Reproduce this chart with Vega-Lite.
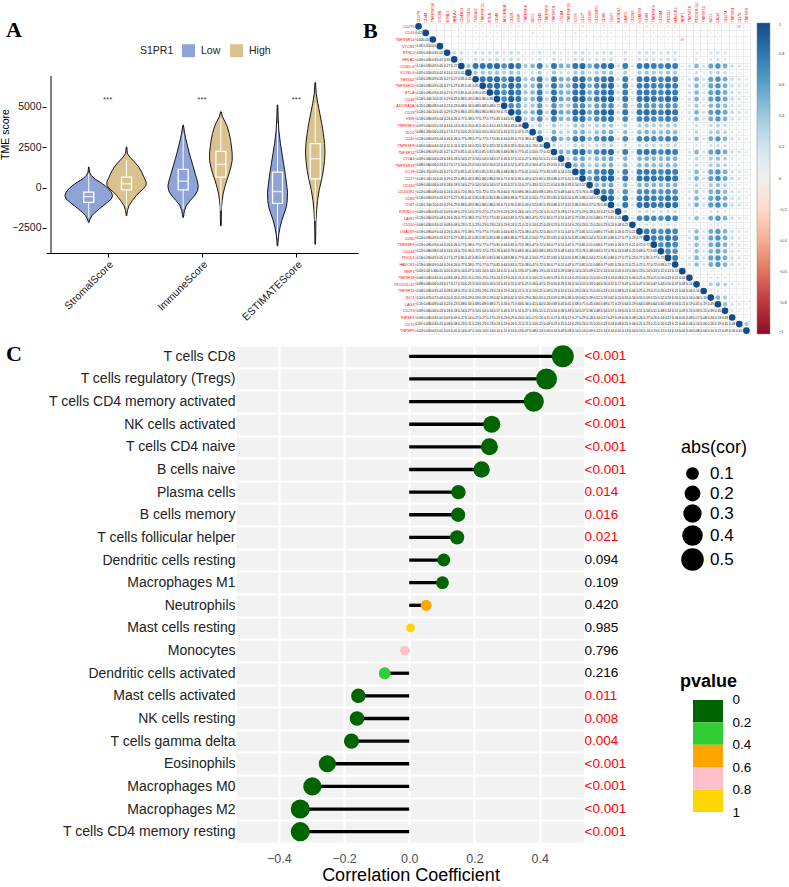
{
"$schema": "https://vega.github.io/schema/vega-lite/v6.json",
"padding": {"left": 0, "top": 1, "right": 0, "bottom": 0},
"autosize": {"type": "pad"},
"config": {"view": {"stroke": null}, "font": "Liberation Sans"},
"datasets": {
"violin": [
{"s":"Stromal","g":"Low","y":1266,"lo":0.797,"hi":0.803},{"s":"Stromal","g":"Low","y":955,"lo":0.793,"hi":0.807},{"s":"Stromal","g":"Low","y":747,"lo":0.773,"hi":0.827},{"s":"Stromal","g":"Low","y":540,"lo":0.738,"hi":0.862},{"s":"Stromal","g":"Low","y":332,"lo":0.68,"hi":0.92},{"s":"Stromal","g":"Low","y":125,"lo":0.629,"hi":0.971},{"s":"Stromal","g":"Low","y":-83,"lo":0.588,"hi":1.012},{"s":"Stromal","g":"Low","y":-291,"lo":0.56,"hi":1.04},{"s":"Stromal","g":"Low","y":-498,"lo":0.547,"hi":1.053},{"s":"Stromal","g":"Low","y":-706,"lo":0.56,"hi":1.04},{"s":"Stromal","g":"Low","y":-913,"lo":0.601,"hi":0.999},{"s":"Stromal","g":"Low","y":-1121,"lo":0.646,"hi":0.954},{"s":"Stromal","g":"Low","y":-1328,"lo":0.69,"hi":0.91},{"s":"Stromal","g":"Low","y":-1536,"lo":0.732,"hi":0.868},{"s":"Stromal","g":"Low","y":-1743,"lo":0.766,"hi":0.834},{"s":"Stromal","g":"Low","y":-1951,"lo":0.786,"hi":0.814},{"s":"Stromal","g":"Low","y":-2158,"lo":0.797,"hi":0.803},
{"s":"Stromal","g":"High","y":2511,"lo":1.197,"hi":1.203},{"s":"Stromal","g":"High","y":2096,"lo":1.19,"hi":1.21},{"s":"Stromal","g":"High","y":1847,"lo":1.159,"hi":1.241},{"s":"Stromal","g":"High","y":1577,"lo":1.114,"hi":1.286},{"s":"Stromal","g":"High","y":1266,"lo":1.07,"hi":1.33},{"s":"Stromal","g":"High","y":955,"lo":1.039,"hi":1.361},{"s":"Stromal","g":"High","y":643,"lo":1.015,"hi":1.385},{"s":"Stromal","g":"High","y":332,"lo":0.991,"hi":1.409},{"s":"Stromal","g":"High","y":125,"lo":0.994,"hi":1.406},{"s":"Stromal","g":"High","y":-83,"lo":1.022,"hi":1.378},{"s":"Stromal","g":"High","y":-291,"lo":1.063,"hi":1.337},{"s":"Stromal","g":"High","y":-498,"lo":1.097,"hi":1.303},{"s":"Stromal","g":"High","y":-809,"lo":1.138,"hi":1.262},{"s":"Stromal","g":"High","y":-1121,"lo":1.173,"hi":1.227},{"s":"Stromal","g":"High","y":-1432,"lo":1.19,"hi":1.21},{"s":"Stromal","g":"High","y":-1743,"lo":1.197,"hi":1.203},
{"s":"Immune","g":"Low","y":3860,"lo":1.797,"hi":1.803},{"s":"Immune","g":"Low","y":3445,"lo":1.786,"hi":1.814},{"s":"Immune","g":"Low","y":3030,"lo":1.773,"hi":1.827},{"s":"Immune","g":"Low","y":2615,"lo":1.755,"hi":1.845},{"s":"Immune","g":"Low","y":2200,"lo":1.738,"hi":1.862},{"s":"Immune","g":"Low","y":1785,"lo":1.718,"hi":1.882},{"s":"Immune","g":"Low","y":1370,"lo":1.697,"hi":1.903},{"s":"Immune","g":"Low","y":955,"lo":1.677,"hi":1.923},{"s":"Immune","g":"Low","y":540,"lo":1.656,"hi":1.944},{"s":"Immune","g":"Low","y":125,"lo":1.639,"hi":1.961},{"s":"Immune","g":"Low","y":-187,"lo":1.646,"hi":1.954},{"s":"Immune","g":"Low","y":-498,"lo":1.677,"hi":1.923},{"s":"Immune","g":"Low","y":-809,"lo":1.725,"hi":1.875},{"s":"Immune","g":"Low","y":-1121,"lo":1.766,"hi":1.834},{"s":"Immune","g":"Low","y":-1432,"lo":1.786,"hi":1.814},{"s":"Immune","g":"Low","y":-1847,"lo":1.797,"hi":1.803},
{"s":"Immune","g":"High","y":4690,"lo":2.197,"hi":2.203},{"s":"Immune","g":"High","y":4378,"lo":2.183,"hi":2.217},{"s":"Immune","g":"High","y":4067,"lo":2.155,"hi":2.245},{"s":"Immune","g":"High","y":3756,"lo":2.132,"hi":2.268},{"s":"Immune","g":"High","y":3341,"lo":2.111,"hi":2.289},{"s":"Immune","g":"High","y":2926,"lo":2.097,"hi":2.303},{"s":"Immune","g":"High","y":2511,"lo":2.087,"hi":2.313},{"s":"Immune","g":"High","y":2096,"lo":2.08,"hi":2.32},{"s":"Immune","g":"High","y":1681,"lo":2.08,"hi":2.32},{"s":"Immune","g":"High","y":1266,"lo":2.094,"hi":2.306},{"s":"Immune","g":"High","y":851,"lo":2.114,"hi":2.286},{"s":"Immune","g":"High","y":436,"lo":2.138,"hi":2.262},{"s":"Immune","g":"High","y":21,"lo":2.159,"hi":2.241},{"s":"Immune","g":"High","y":-394,"lo":2.176,"hi":2.224},{"s":"Immune","g":"High","y":-809,"lo":2.186,"hi":2.214},{"s":"Immune","g":"High","y":-1224,"lo":2.193,"hi":2.207},{"s":"Immune","g":"High","y":-1847,"lo":2.195,"hi":2.205},{"s":"Immune","g":"High","y":-2366,"lo":2.197,"hi":2.203},
{"s":"ESTIMATE","g":"Low","y":5105,"lo":2.797,"hi":2.803},{"s":"ESTIMATE","g":"Low","y":4378,"lo":2.793,"hi":2.807},{"s":"ESTIMATE","g":"Low","y":3548,"lo":2.786,"hi":2.814},{"s":"ESTIMATE","g":"Low","y":2718,"lo":2.769,"hi":2.831},{"s":"ESTIMATE","g":"Low","y":2096,"lo":2.752,"hi":2.848},{"s":"ESTIMATE","g":"Low","y":1473,"lo":2.735,"hi":2.865},{"s":"ESTIMATE","g":"Low","y":851,"lo":2.718,"hi":2.882},{"s":"ESTIMATE","g":"Low","y":228,"lo":2.704,"hi":2.896},{"s":"ESTIMATE","g":"Low","y":-291,"lo":2.694,"hi":2.906},{"s":"ESTIMATE","g":"Low","y":-809,"lo":2.697,"hi":2.903},{"s":"ESTIMATE","g":"Low","y":-1224,"lo":2.707,"hi":2.893},{"s":"ESTIMATE","g":"Low","y":-1639,"lo":2.731,"hi":2.869},{"s":"ESTIMATE","g":"Low","y":-2054,"lo":2.755,"hi":2.845},{"s":"ESTIMATE","g":"Low","y":-2469,"lo":2.773,"hi":2.827},{"s":"ESTIMATE","g":"Low","y":-2884,"lo":2.786,"hi":2.814},{"s":"ESTIMATE","g":"Low","y":-3299,"lo":2.793,"hi":2.807},{"s":"ESTIMATE","g":"Low","y":-3611,"lo":2.797,"hi":2.803},
{"s":"ESTIMATE","g":"High","y":6495,"lo":3.197,"hi":3.203},{"s":"ESTIMATE","g":"High","y":5831,"lo":3.19,"hi":3.21},{"s":"ESTIMATE","g":"High","y":5208,"lo":3.173,"hi":3.227},{"s":"ESTIMATE","g":"High","y":4586,"lo":3.152,"hi":3.248},{"s":"ESTIMATE","g":"High","y":3963,"lo":3.131,"hi":3.269},{"s":"ESTIMATE","g":"High","y":3341,"lo":3.114,"hi":3.286},{"s":"ESTIMATE","g":"High","y":2718,"lo":3.101,"hi":3.299},{"s":"ESTIMATE","g":"High","y":2200,"lo":3.097,"hi":3.303},{"s":"ESTIMATE","g":"High","y":1681,"lo":3.101,"hi":3.299},{"s":"ESTIMATE","g":"High","y":1058,"lo":3.114,"hi":3.286},{"s":"ESTIMATE","g":"High","y":436,"lo":3.135,"hi":3.265},{"s":"ESTIMATE","g":"High","y":-187,"lo":3.159,"hi":3.241},{"s":"ESTIMATE","g":"High","y":-809,"lo":3.176,"hi":3.224},{"s":"ESTIMATE","g":"High","y":-1432,"lo":3.186,"hi":3.214},{"s":"ESTIMATE","g":"High","y":-2054,"lo":3.193,"hi":3.207},{"s":"ESTIMATE","g":"High","y":-2677,"lo":3.195,"hi":3.205},{"s":"ESTIMATE","g":"High","y":-3507,"lo":3.197,"hi":3.203}
],
"box": [
{"s":"Stromal","g":"Low","pos":0.8,"lower":-1850,"q1":-913,"med":-560,"q3":-290,"upper":850},
{"s":"Stromal","g":"High","pos":1.2,"lower":-1224,"q1":-145,"med":228,"q3":643,"upper":1680},
{"s":"Immune","g":"Low","pos":1.8,"lower":-1328,"q1":-145,"med":394,"q3":1120,"upper":3340},
{"s":"Immune","g":"High","pos":2.2,"lower":-1432,"q1":643,"med":1432,"q3":2241,"upper":4275},
{"s":"ESTIMATE","g":"Low","pos":2.8,"lower":-3092,"q1":-975,"med":-249,"q3":955,"upper":3963},
{"s":"ESTIMATE","g":"High","pos":3.2,"lower":-2054,"q1":540,"med":1785,"q3":2718,"upper":5200}
],
"stars": [{"pos":1,"y":5420,"lab":"***"},{"pos":2,"y":5420,"lab":"***"},{"pos":3,"y":5420,"lab":"***"}],
"pbins": [{"bin":"0-0.2","lo":0,"hi":0.2},{"bin":"0.2-0.4","lo":0.2,"hi":0.4},{"bin":"0.4-0.6","lo":0.4,"hi":0.6},{"bin":"0.6-0.8","lo":0.6,"hi":0.8},{"bin":"0.8-1","lo":0.8,"hi":1}],
"cols": [
{"k":1,"c":"TNFSF9"},{"k":2,"c":"CD70"},{"k":3,"c":"TNFSF4"},{"k":4,"c":"CD274"},{"k":5,"c":"LAG3"},{"k":6,"c":"IDO1"},{"k":7,"c":"TNFSF15"},{"k":8,"c":"PDCD1LG2"},{"k":9,"c":"TNFSF18"},{"k":10,"c":"NRP1"},{"k":11,"c":"HAVCR2"},{"k":12,"c":"PDCD1"},{"k":13,"c":"CD244"},{"k":14,"c":"TNFRSF9"},{"k":15,"c":"CD80"},{"k":16,"c":"LGALS9"},{"k":17,"c":"CD200"},{"k":18,"c":"LAIR1"},{"k":19,"c":"KIR3DL1"},{"k":20,"c":"TIGIT"},{"k":21,"c":"CD86"},{"k":22,"c":"CD200R1"},{"k":23,"c":"CD160"},{"k":24,"c":"CD27"},{"k":25,"c":"ICOS"},{"k":26,"c":"TNFRSF18"},{"k":27,"c":"CTLA4"},{"k":28,"c":"TNFSF14"},{"k":29,"c":"TNFRSF8"},{"k":30,"c":"CD40"},{"k":31,"c":"IDO2"},{"k":32,"c":"TNFRSF4"},{"k":33,"c":"VSIR"},{"k":34,"c":"CD28"},{"k":35,"c":"ADORA2A"},{"k":36,"c":"CD48"},{"k":37,"c":"BTLA"},{"k":38,"c":"TNFRSF25"},{"k":39,"c":"TMIGD2"},{"k":40,"c":"ICOSLG"},{"k":41,"c":"CD40LG"},{"k":42,"c":"HHLA2"},{"k":43,"c":"BTNL2"},{"k":44,"c":"VTCN1"},{"k":45,"c":"TNFRSF14"},{"k":46,"c":"CD44"},{"k":47,"c":"CD276"}
],
"corr": [
{"g":"CD276","v":[-0.02,0.3,-0.05,-0.09,-0.11,-0.1,-0.04,-0.08,-0.04,-0.02,-0.13,-0.14,-0.12,-0.13,-0.14,-0.13,-0.04,-0.13,-0.05,-0.14,-0.14,-0.12,-0.09,-0.14,-0.14,-0.08,-0.09,-0.14,-0.05,-0.13,-0.08,-0.07,-0.13,-0.14,-0.11,-0.14,-0.14,-0.14,-0.14,-0.07,-0.14,-0.05,-0.05,-0.01,-0.02,0.02,1]},
{"g":"CD44","v":[-0.02,-0.03,-0.03,-0.06,-0.08,-0.07,-0.03,-0.06,-0.03,-0.02,-0.09,-0.09,-0.08,-0.09,-0.09,-0.09,-0.03,-0.09,-0.03,-0.1,-0.09,-0.08,-0.06,-0.1,-0.15,-0.06,-0.06,-0.09,-0.04,-0.09,-0.2,-0.05,-0.09,-0.1,-0.08,-0.1,-0.09,-0.09,-0.09,-0.05,-0.09,-0.03,-0.03,-0.01,0.05,1]},
{"g":"TNFRSF14","v":[0.02,0.03,0.03,0.06,0.08,0.07,0.03,0.06,0.03,-0.3,0.09,0.09,0.08,0.09,0.09,0.09,0.03,0.09,0.03,0.1,0.09,0.08,0.06,0.1,0.09,0.06,0.06,0.09,0.04,0.09,0.06,0.05,0.09,0.1,0.08,0.1,0.09,0.09,0.09,0.05,0.09,0.03,0.03,0.01,1]},
{"g":"VTCN1","v":[0.01,0.01,0.02,0.03,0.04,0.03,0.01,0.03,0.01,0.01,0.04,0.05,0.04,0.04,0.05,0.04,0.01,0.04,0.02,0.05,0.05,0.04,0.03,0.05,0.05,0.03,0.03,0.05,0.02,0.04,0.03,0.02,0.04,0.05,0.04,0.05,0.05,0.05,0.05,0.02,0.05,0.02,0.02,1]},
{"g":"BTNL2","v":[0.05,0.08,0.09,0.18,0.23,0.2,0.08,0.17,0.08,0.05,0.26,0.27,0.24,0.26,0.27,0.26,0.08,0.26,0.09,0.29,0.27,0.24,0.18,0.29,0.27,0.17,0.18,0.27,0.11,0.26,0.17,0.14,0.26,0.29,0.23,0.29,0.27,0.27,0.27,0.14,0.27,0.3,1]},
{"g":"HHLA2","v":[0.05,0.08,0.09,0.18,0.23,0.2,0.08,0.17,0.08,0.05,0.26,0.27,0.24,0.26,0.27,0.26,0.08,0.26,0.09,0.29,0.27,0.24,0.18,0.29,0.27,0.17,0.18,0.27,0.11,0.26,0.17,0.14,0.26,0.29,0.23,0.29,0.27,0.27,0.27,0.14,0.27,1]},
{"g":"CD40LG","v":[0.14,0.23,0.27,0.54,0.68,0.59,0.23,0.5,0.23,0.14,0.77,0.81,0.72,0.77,0.81,0.77,0.23,0.77,0.27,0.86,0.81,0.72,0.54,0.86,0.81,0.5,0.54,0.81,0.32,0.77,0.5,0.41,0.77,0.86,0.68,0.86,0.81,0.81,0.81,0.41,1]},
{"g":"ICOSLG","v":[0.07,0.11,0.14,0.27,0.34,0.29,0.11,0.25,0.11,0.07,0.38,0.41,0.36,0.38,0.41,0.38,0.11,0.38,0.14,0.43,0.41,0.36,0.27,0.43,0.41,0.25,0.27,0.41,0.16,0.38,0.25,0.2,0.38,0.43,0.34,0.43,0.41,0.41,0.41,1]},
{"g":"TMIGD2","v":[0.14,0.23,0.27,0.54,0.68,0.59,0.23,0.5,0.23,0.14,0.77,0.81,0.72,0.77,0.81,0.77,0.23,0.77,0.27,0.86,0.81,0.72,0.54,0.86,0.81,0.5,0.54,0.81,0.32,0.77,0.5,0.41,0.77,0.86,0.68,0.86,0.81,0.81,1]},
{"g":"TNFRSF25","v":[0.14,0.23,0.27,0.54,0.68,0.59,0.23,0.5,0.23,0.14,0.77,0.81,0.72,0.77,0.81,0.77,0.23,0.77,0.27,0.86,0.81,0.72,0.54,0.86,0.81,0.5,0.54,0.81,0.32,0.77,0.5,0.41,0.77,0.86,0.68,0.86,0.81,1]},
{"g":"BTLA","v":[0.14,0.23,0.27,0.54,0.68,0.59,0.23,0.5,0.23,0.14,0.77,0.81,0.72,0.77,0.81,0.77,0.23,0.77,0.27,0.86,0.81,0.72,0.54,0.86,0.81,0.5,0.54,0.81,0.32,0.77,0.5,0.41,0.77,0.86,0.68,0.86,1]},
{"g":"CD48","v":[0.14,0.24,0.29,0.57,0.71,0.62,0.24,0.52,0.24,0.14,0.81,0.86,0.76,0.81,0.86,0.81,0.24,0.81,0.29,0.9,0.86,0.76,0.57,0.9,0.86,0.52,0.57,0.86,0.33,0.81,0.52,0.43,0.81,0.9,0.71,1]},
{"g":"ADORA2A","v":[0.11,0.19,0.23,0.45,0.56,0.49,0.19,0.41,0.19,0.11,0.64,0.68,0.6,0.64,0.68,0.64,0.19,0.64,0.23,0.71,0.68,0.6,0.45,0.71,0.68,0.41,0.45,0.68,0.26,0.64,0.41,0.34,0.64,0.71,1]},
{"g":"CD28","v":[0.14,0.24,0.29,0.57,0.71,0.62,0.24,0.52,0.24,0.14,0.81,0.86,0.76,0.81,0.86,0.81,0.24,0.81,0.29,0.9,0.86,0.76,0.57,0.9,0.86,0.52,0.57,0.86,0.33,0.81,0.52,0.43,0.81,1]},
{"g":"VSIR","v":[0.13,0.21,0.26,0.51,0.64,0.55,0.21,0.47,0.21,0.13,0.72,0.77,0.68,0.72,0.77,0.72,0.21,0.72,0.26,0.81,0.77,0.68,0.51,0.81,0.77,0.47,0.51,0.77,0.3,0.72,0.47,0.38,1]},
{"g":"TNFRSF4","v":[0.07,0.11,0.14,0.27,0.34,0.29,0.11,0.25,0.11,0.07,0.38,0.41,0.36,0.38,0.41,0.38,0.11,0.38,0.14,0.43,0.41,0.36,0.27,0.43,0.41,0.25,0.27,0.41,0.16,0.38,0.25,1]},
{"g":"IDO2","v":[0.08,0.14,0.17,0.33,0.41,0.36,0.14,0.3,0.14,0.08,0.47,0.5,0.44,0.47,0.5,0.47,0.14,0.47,0.17,0.52,0.5,0.44,0.33,0.52,0.5,0.3,0.33,0.5,0.19,0.47,1]},
{"g":"CD40","v":[0.13,0.21,0.26,0.51,0.64,0.55,0.21,0.47,0.21,0.13,0.72,0.77,0.68,0.72,0.77,0.72,0.21,0.72,0.26,0.81,0.77,0.68,0.51,0.81,0.77,0.47,0.51,0.77,0.3,1]},
{"g":"TNFRSF8","v":[0.05,0.09,0.11,0.21,0.26,0.23,0.09,0.19,0.09,0.05,0.3,0.32,0.28,0.3,0.32,0.3,0.09,0.3,0.11,0.33,0.32,0.28,0.21,0.33,0.32,0.19,0.21,0.32,1]},
{"g":"TNFSF14","v":[0.14,0.23,0.27,0.54,0.68,0.59,0.23,0.5,0.23,0.14,0.77,0.81,0.72,0.77,0.81,0.77,0.23,0.77,0.27,0.86,0.81,0.72,0.54,0.86,0.81,0.5,0.54,1]},
{"g":"CTLA4","v":[0.09,0.15,0.18,0.36,0.45,0.39,0.15,0.33,0.15,0.09,0.51,0.54,0.48,0.51,0.54,0.51,0.15,0.51,0.18,0.57,0.54,0.48,0.36,0.57,0.54,0.33,1]},
{"g":"TNFRSF18","v":[0.08,0.14,0.17,0.33,0.41,0.36,0.14,0.3,0.14,0.08,0.47,0.5,0.44,0.47,0.5,0.47,0.14,0.47,0.17,0.52,0.5,0.44,0.33,0.52,0.5,1]},
{"g":"ICOS","v":[0.14,0.23,0.27,0.54,0.68,0.59,0.23,0.5,0.23,0.14,0.77,0.81,0.72,0.77,0.81,0.77,0.23,0.77,0.27,0.86,0.81,0.72,0.54,0.86,1]},
{"g":"CD27","v":[0.14,0.24,0.29,0.57,0.71,0.62,0.24,0.52,0.24,0.14,0.81,0.86,0.76,0.81,0.86,0.81,0.24,0.81,0.29,0.9,0.86,0.76,0.57,1]},
{"g":"CD160","v":[0.09,0.15,0.18,0.36,0.45,0.39,0.15,0.33,0.15,0.09,0.51,0.54,0.48,0.51,0.54,0.51,0.15,0.51,0.18,0.57,0.54,0.48,1]},
{"g":"CD200R1","v":[0.12,0.2,0.24,0.48,0.6,0.52,0.2,0.44,0.2,0.12,0.68,0.72,0.64,0.68,0.72,0.68,0.2,0.68,0.24,0.76,0.72,1]},
{"g":"CD86","v":[0.14,0.23,0.27,0.54,0.68,0.59,0.23,0.5,0.23,0.14,0.77,0.81,0.72,0.77,0.81,0.77,0.23,0.77,0.27,0.86,1]},
{"g":"TIGIT","v":[0.14,0.24,0.29,0.57,0.71,0.62,0.24,0.52,0.24,0.14,0.81,0.86,0.76,0.81,0.86,0.81,0.24,0.81,0.29,1]},
{"g":"KIR3DL1","v":[0.05,0.08,0.09,0.18,0.23,0.2,0.08,0.17,0.08,0.05,0.26,0.27,0.24,0.26,0.27,0.26,0.08,0.26,1]},
{"g":"LAIR1","v":[0.13,0.21,0.26,0.51,0.64,0.55,0.21,0.47,0.21,0.13,0.72,0.77,0.68,0.72,0.77,0.72,0.21,1]},
{"g":"CD200","v":[0.04,0.06,0.08,0.15,0.19,0.16,0.06,0.14,0.06,0.04,0.21,0.23,0.2,0.21,0.23,0.21,1]},
{"g":"LGALS9","v":[0.13,0.21,0.26,0.51,0.64,0.55,0.21,0.47,0.21,0.13,0.72,0.77,0.68,0.72,0.77,1]},
{"g":"CD80","v":[0.14,0.23,0.27,0.54,0.68,0.59,0.23,0.5,0.23,0.14,0.77,0.81,0.72,0.77,1]},
{"g":"TNFRSF9","v":[0.13,0.21,0.26,0.51,0.64,0.55,0.21,0.47,0.21,0.13,0.72,0.77,0.68,1]},
{"g":"CD244","v":[0.12,0.2,0.24,0.48,0.6,0.52,0.2,0.44,0.2,0.12,0.68,0.72,1]},
{"g":"PDCD1","v":[0.14,0.23,0.27,0.54,0.68,0.59,0.23,0.5,0.23,0.14,0.77,1]},
{"g":"HAVCR2","v":[0.13,0.21,0.26,0.51,0.64,0.55,0.21,0.47,0.21,0.13,1]},
{"g":"NRP1","v":[0.02,0.04,0.05,0.09,0.11,0.1,0.04,0.08,0.04,1]},
{"g":"TNFSF18","v":[0.04,0.06,0.08,0.15,0.19,0.16,0.06,0.14,1]},
{"g":"PDCD1LG2","v":[0.08,0.14,0.17,0.33,0.41,0.36,0.14,1]},
{"g":"TNFSF15","v":[0.04,0.06,0.08,0.15,0.19,0.16,1]},
{"g":"IDO1","v":[0.1,0.16,0.2,0.39,0.49,1]},
{"g":"LAG3","v":[0.11,0.19,0.23,0.45,1]},
{"g":"CD274","v":[0.09,0.15,0.18,1]},
{"g":"TNFSF4","v":[0.05,0.08,1]},
{"g":"CD70","v":[0.4,1]},
{"g":"TNFSF9","v":[1]}
],
"imm": [
{"cell":"T cells CD8","cor":0.471,"abscor":0.471,"pvalue":0.0005,"ptext":"<0.001"},
{"cell":"T cells regulatory (Tregs)","cor":0.421,"abscor":0.421,"pvalue":0.0005,"ptext":"<0.001"},
{"cell":"T cells CD4 memory activated","cor":0.382,"abscor":0.382,"pvalue":0.0005,"ptext":"<0.001"},
{"cell":"NK cells activated","cor":0.253,"abscor":0.253,"pvalue":0.0005,"ptext":"<0.001"},
{"cell":"T cells CD4 naive","cor":0.246,"abscor":0.246,"pvalue":0.0005,"ptext":"<0.001"},
{"cell":"B cells naive","cor":0.222,"abscor":0.222,"pvalue":0.0005,"ptext":"<0.001"},
{"cell":"Plasma cells","cor":0.151,"abscor":0.151,"pvalue":0.014,"ptext":"0.014"},
{"cell":"B cells memory","cor":0.15,"abscor":0.15,"pvalue":0.016,"ptext":"0.016"},
{"cell":"T cells follicular helper","cor":0.147,"abscor":0.147,"pvalue":0.021,"ptext":"0.021"},
{"cell":"Dendritic cells resting","cor":0.106,"abscor":0.106,"pvalue":0.094,"ptext":"0.094"},
{"cell":"Macrophages M1","cor":0.102,"abscor":0.102,"pvalue":0.109,"ptext":"0.109"},
{"cell":"Neutrophils","cor":0.052,"abscor":0.052,"pvalue":0.42,"ptext":"0.420"},
{"cell":"Mast cells resting","cor":0.004,"abscor":0.004,"pvalue":0.985,"ptext":"0.985"},
{"cell":"Monocytes","cor":-0.014,"abscor":0.014,"pvalue":0.796,"ptext":"0.796"},
{"cell":"Dendritic cells activated","cor":-0.075,"abscor":0.075,"pvalue":0.216,"ptext":"0.216"},
{"cell":"Mast cells activated","cor":-0.156,"abscor":0.156,"pvalue":0.011,"ptext":"0.011"},
{"cell":"NK cells resting","cor":-0.16,"abscor":0.16,"pvalue":0.008,"ptext":"0.008"},
{"cell":"T cells gamma delta","cor":-0.177,"abscor":0.177,"pvalue":0.004,"ptext":"0.004"},
{"cell":"Eosinophils","cor":-0.251,"abscor":0.251,"pvalue":0.0005,"ptext":"<0.001"},
{"cell":"Macrophages M0","cor":-0.297,"abscor":0.297,"pvalue":0.0005,"ptext":"<0.001"},
{"cell":"Macrophages M2","cor":-0.334,"abscor":0.334,"pvalue":0.0005,"ptext":"<0.001"},
{"cell":"T cells CD4 memory resting","cor":-0.334,"abscor":0.334,"pvalue":0.0005,"ptext":"<0.001"}
]
},
"concat": [
{
"hconcat": [
{
"width": 312, "height": 230,
"title": {"text": "A", "anchor": "start", "frame": "group", "dx": -40, "dy": 19, "offset": 0, "font": "Liberation Serif", "fontSize": 22, "fontWeight": "bold", "color": "black"},
"layer": [
{"data": {"name": "violin"}, "mark": {"type": "area", "orient": "horizontal", "stroke": "black", "strokeWidth": 0.9},
 "encoding": {
  "y": {"field": "y", "type": "quantitative", "scale": {"domain": [-4050, 10179], "nice": false, "zero": false},
        "axis": {"title": "TME score", "titleFontSize": 10.5, "titleFontWeight": "normal", "titleColor": "black", "titlePadding": 1, "titleY": 111, "values": [-2500, 0, 2500, 5000], "format": "d", "labelFontSize": 10.5, "labelColor": "#222", "tickColor": "black", "tickSize": 4, "labelPadding": 1, "domain": false, "grid": false}},
  "x": {"field": "lo", "type": "quantitative", "scale": {"domain": [0.4, 3.6], "nice": false, "zero": false},
        "axis": {"title": null, "values": [1, 2, 3], "labelExpr": "datum.value == 1 ? 'StromalScore' : datum.value == 2 ? 'ImmuneScore' : 'ESTIMATEScore'", "labelAngle": -45, "labelFontSize": 10.5, "labelColor": "#222", "tickColor": "black", "tickSize": 4, "labelPadding": 2, "domainColor": "black", "domainWidth": 1, "grid": false}},
  "x2": {"field": "hi"},
  "fill": {"field": "g", "type": "nominal", "scale": {"domain": ["Low", "High"], "range": ["#8FA3D7", "#D9C28E"]},
           "legend": {"title": "S1PR1", "orient": "none", "legendX": 94, "legendY": 20, "direction": "horizontal", "titleOrient": "left", "titleFontSize": 10.5, "titleFontWeight": "normal", "titleColor": "#222", "labelFontSize": 10.5, "labelColor": "#222", "symbolType": "square", "symbolSize": 196, "symbolStrokeColor": "#333", "symbolStrokeWidth": 1, "labelOffset": 5, "columnPadding": 6, "titlePadding": 7, "symbolOpacity": 1}},
  "detail": {"field": "s"}
 }},
{"data": {"name": "box"}, "mark": {"type": "rule", "color": "white", "strokeWidth": 1},
 "encoding": {"x": {"field": "pos", "type": "quantitative"}, "y": {"field": "lower", "type": "quantitative"}, "y2": {"field": "upper"}}},
{"data": {"name": "box"}, "mark": {"type": "bar", "width": 10, "stroke": "white", "strokeWidth": 1.3},
 "encoding": {"x": {"field": "pos", "type": "quantitative"}, "y": {"field": "q1", "type": "quantitative"}, "y2": {"field": "q3"}, "fill": {"field": "g", "type": "nominal"}}},
{"data": {"name": "box"}, "mark": {"type": "tick", "orient": "horizontal", "color": "white", "thickness": 1.5, "size": 10},
 "encoding": {"x": {"field": "pos", "type": "quantitative"}, "y": {"field": "med", "type": "quantitative"}}},
{"data": {"name": "stars"}, "mark": {"type": "text", "fontSize": 8, "color": "#444"},
 "encoding": {"x": {"field": "pos", "type": "quantitative"}, "y": {"field": "y", "type": "quantitative"}, "text": {"field": "lab"}}},
{"data": {"values": [{}]}, "mark": {"type": "rule", "color": "black", "strokeWidth": 1},
 "encoding": {"x": {"datum": 0.4, "type": "quantitative"}, "y": {"datum": -4050, "type": "quantitative"}, "y2": {"datum": 6900}}}
]
},
{
"width": 335, "height": 311,
"title": {"text": "B", "anchor": "start", "frame": "group", "dx": -52, "dy": 41, "offset": 0, "font": "Liberation Serif", "fontSize": 22, "fontWeight": "bold", "color": "black"},
"data": {"name": "corr"},
"transform": [
 {"flatten": ["v"]},
 {"window": [{"op": "row_number", "as": "k"}], "groupby": ["g"]},
 {"lookup": "k", "from": {"data": {"name": "cols"}, "key": "k", "fields": ["c"]}}
],
"resolve": {"scale": {"size": "independent"}, "legend": {"size": "independent"}},
"layer": [
{"transform": [{"filter": "datum.v >= 0"}], "mark": {"type": "circle", "opacity": 1},
 "encoding": {
  "x": {"field": "c", "type": "nominal", "scale": {"domain": ["CD276","CD44","TNFRSF14","VTCN1","BTNL2","HHLA2","CD40LG","ICOSLG","TMIGD2","TNFRSF25","BTLA","CD48","ADORA2A","CD28","VSIR","TNFRSF4","IDO2","CD40","TNFRSF8","TNFSF14","CTLA4","TNFRSF18","ICOS","CD27","CD160","CD200R1","CD86","TIGIT","KIR3DL1","LAIR1","CD200","LGALS9","CD80","TNFRSF9","CD244","PDCD1","HAVCR2","NRP1","TNFSF18","PDCD1LG2","TNFSF15","IDO1","LAG3","CD274","TNFSF4","CD70","TNFSF9"], "paddingInner": 0, "paddingOuter": 0},
        "axis": {"orient": "top", "title": null, "labelAngle": -90, "labelAlign": "left", "labelBaseline": "middle", "labelFontSize": 3.8, "labelColor": "#FF0000", "labelPadding": 1, "ticks": false, "domain": false, "labelOverlap": false, "labelBound": false, "grid": true, "gridColor": "#DDDDDD", "gridWidth": 0.5, "tickBand": "extent"}},
  "y": {"field": "g", "type": "nominal", "scale": {"domain": ["CD276","CD44","TNFRSF14","VTCN1","BTNL2","HHLA2","CD40LG","ICOSLG","TMIGD2","TNFRSF25","BTLA","CD48","ADORA2A","CD28","VSIR","TNFRSF4","IDO2","CD40","TNFRSF8","TNFSF14","CTLA4","TNFRSF18","ICOS","CD27","CD160","CD200R1","CD86","TIGIT","KIR3DL1","LAIR1","CD200","LGALS9","CD80","TNFRSF9","CD244","PDCD1","HAVCR2","NRP1","TNFSF18","PDCD1LG2","TNFSF15","IDO1","LAG3","CD274","TNFSF4","CD70","TNFSF9"], "paddingInner": 0, "paddingOuter": 0},
        "axis": {"title": null, "labelFontSize": 3.8, "labelColor": "#FF0000", "labelPadding": 1, "ticks": false, "domain": false, "labelOverlap": false, "labelBound": false, "grid": true, "gridColor": "#DDDDDD", "gridWidth": 0.5, "tickBand": "extent"}},
  "size": {"field": "v", "type": "quantitative", "scale": {"domain": [0, 1], "range": [0, 44]}, "legend": null},
  "color": {"field": "v", "type": "quantitative", "scale": {"domain": [-1, 1], "scheme": "redblue"},
            "legend": {"title": null, "type": "gradient", "orient": "right", "offset": 7, "direction": "vertical", "gradientLength": 311, "gradientThickness": 13, "values": [-1,-0.8,-0.6,-0.4,-0.2,0,0.2,0.4,0.6,0.8,1], "format": "~g", "labelFontSize": 3.8, "labelOffset": 9, "labelColor": "#333", "gradientStrokeColor": "#888", "gradientStrokeWidth": 0.5, "labelOverlap": false}}
 }},
{"transform": [{"filter": "datum.v < 0"}], "mark": {"type": "circle", "opacity": 1},
 "encoding": {
  "x": {"field": "c", "type": "nominal"},
  "y": {"field": "g", "type": "nominal"},
  "size": {"field": "v", "type": "quantitative", "scale": {"domain": [0, -1], "range": [0, 44]}, "legend": null},
  "color": {"field": "v", "type": "quantitative"}
 }},
{"transform": [{"filter": "datum.v < 1"}], "mark": {"type": "text", "fontSize": 3.2, "color": "black"},
 "encoding": {
  "x": {"field": "g", "type": "nominal"},
  "y": {"field": "c", "type": "nominal"},
  "text": {"field": "v", "type": "quantitative", "format": ".2f"}
 }}
]
}
],
"bounds": "flush",
"spacing": 57,
"resolve": {"scale": {"color": "independent", "fill": "independent", "size": "independent"}, "legend": {"color": "independent", "fill": "independent", "size": "independent"}}
},
{
"hconcat": [
{"width": 82, "height": 1, "data": {"values": []}, "mark": "point"},
{
"width": 347, "height": 498,
"view": {"fill": "#F2F2F2", "stroke": null},
"title": {"text": "C", "anchor": "start", "frame": "group", "dx": -231, "dy": 28, "offset": 0, "font": "Liberation Serif", "fontSize": 22, "fontWeight": "bold", "color": "black"},
"data": {"name": "imm"},
"encoding": {
 "y": {"field": "cell", "type": "nominal", "scale": {"domain": ["T cells CD8","T cells regulatory (Tregs)","T cells CD4 memory activated","NK cells activated","T cells CD4 naive","B cells naive","Plasma cells","B cells memory","T cells follicular helper","Dendritic cells resting","Macrophages M1","Neutrophils","Mast cells resting","Monocytes","Dendritic cells activated","Mast cells activated","NK cells resting","T cells gamma delta","Eosinophils","Macrophages M0","Macrophages M2","T cells CD4 memory resting"], "paddingInner": 0, "paddingOuter": 0},
       "axis": {"title": null, "labelFontSize": 14, "labelColor": "#222", "labelLimit": 0, "ticks": false, "domain": false, "labelPadding": 2, "labelOverlap": false, "grid": true, "gridColor": "white", "gridWidth": 2, "tickBand": "extent"}}
},
"layer": [
{"mark": {"type": "rule", "color": "black", "strokeWidth": 3.3},
 "encoding": {
  "x": {"field": "cor", "type": "quantitative", "scale": {"domain": [-0.528, 0.536], "nice": false, "zero": false},
        "axis": {"title": "Correlation Coefficient", "titleFontSize": 18, "titleFontWeight": "normal", "titleColor": "black", "titlePadding": 2, "values": [-0.4, -0.2, 0, 0.2, 0.4], "format": ".1f", "labelFontSize": 12.5, "labelColor": "#4D4D4D", "ticks": false, "domain": false, "labelPadding": 9, "grid": true, "gridColor": "white", "gridWidth": 2}},
  "x2": {"datum": 0}
 }},
{"mark": {"type": "circle", "opacity": 1},
 "encoding": {
  "x": {"field": "cor", "type": "quantitative"},
  "size": {"field": "abscor", "type": "quantitative", "scale": {"domain": [0, 0.5], "range": [75, 510]},
           "legend": {"title": "abs(cor)", "orient": "none", "legendX": 444, "legendY": 94, "values": [0.1, 0.2, 0.3, 0.4, 0.5], "symbolType": "circle", "symbolFillColor": "black", "symbolStrokeColor": "black", "symbolStrokeWidth": 0, "symbolOpacity": 1, "titleFontSize": 18, "titleFontWeight": "normal", "titleColor": "black", "labelFontSize": 17, "labelColor": "black", "rowPadding": 2, "labelOffset": 6, "titlePadding": 8}},
  "color": {"field": "pvalue", "type": "quantitative", "bin": {"extent": [0, 1], "step": 0.2}, "scale": {"range": ["#006400", "#32CD32", "#FFA500", "#FFC0CB", "#FFD700"]}, "legend": null}
 }},
{"mark": {"type": "text", "align": "left", "baseline": "middle", "dx": 0.5, "fontSize": 13.5},
 "encoding": {
  "x": {"datum": 0.536, "type": "quantitative"},
  "text": {"field": "ptext"},
  "color": {"condition": {"test": "datum.pvalue < 0.05", "value": "#FF0000"}, "value": "#000000"}
 }}
]
},
{
"width": 30, "height": 467,
"title": {"text": "pvalue", "anchor": "start", "frame": "group", "dx": -13, "dy": 346, "offset": 0, "fontSize": 18, "fontWeight": "bold", "color": "black", "font": "Liberation Sans"},
"data": {"name": "pbins"},
"mark": {"type": "rect"},
"encoding": {
 "y": {"field": "lo", "type": "quantitative", "scale": {"domain": [-3.1696, 1], "reverse": true, "nice": false, "zero": false},
       "axis": {"orient": "right", "title": null, "values": [0, 0.2, 0.4, 0.6, 0.8, 1], "format": "~g", "labelFontSize": 13.5, "labelColor": "black", "domain": false, "ticks": false, "grid": false, "labelPadding": 9}},
 "y2": {"field": "hi"},
 "fill": {"field": "bin", "type": "nominal", "scale": {"domain": ["0-0.2", "0.2-0.4", "0.4-0.6", "0.6-0.8", "0.8-1"], "range": ["#006400", "#32CD32", "#FFA500", "#FFC0CB", "#FFD700"]}, "legend": null}
}
}
],
"bounds": "flush",
"spacing": 109,
"resolve": {"scale": {"color": "independent", "fill": "independent", "size": "independent"}, "legend": {"color": "independent", "fill": "independent", "size": "independent"}}
}
],
"columns": 1,
"align": "each",
"spacing": 3,
"resolve": {"scale": {"color": "independent", "fill": "independent", "size": "independent"}, "legend": {"color": "independent", "fill": "independent", "size": "independent"}}
}
